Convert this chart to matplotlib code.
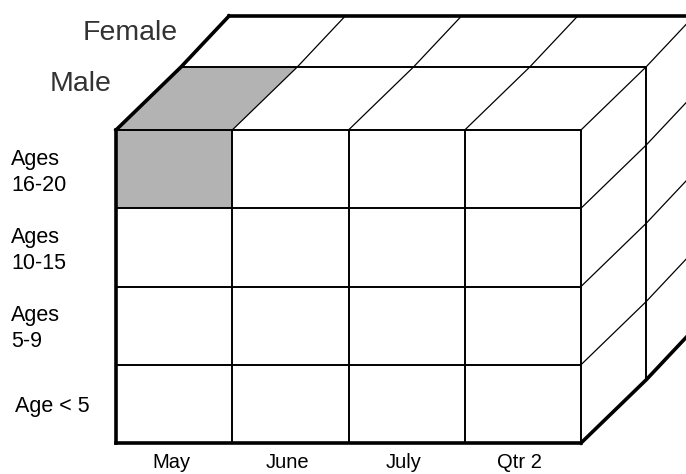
import matplotlib
matplotlib.use('Agg')
import matplotlib.pyplot as plt
from matplotlib.patches import Polygon

# cube dimensions
months = ['May', 'June', 'July', 'Qtr 2']
ages = ['Ages\n16-20', 'Ages\n10-15', 'Ages\n5-9', 'Age < 5']
genders = ['Male', 'Female']
selected = ('May', 'Ages\n16-20', 'Male')   # the shaded cell

# drawing geometry (pixels)
x0, y0 = 116, 130
cw, rh = 116.25, 78.25
depth = [(0, 0), (65, -63), (113, -114)]   # front, middle, back
thick = 2.6
thin = 1.4
diag = 0.9
shade = '#b3b3b3'

plt.rcParams['font.family'] = ['Liberation Sans', 'DejaVu Sans']

fig = plt.figure(figsize=(6.86, 4.74), dpi=100)
ax = fig.add_axes([0, 0, 1, 1])
ax.set_xlim(0, 686)
ax.set_ylim(474, 0)
ax.axis('off')

ncol = len(months)
nrow = len(ages)
W = ncol * cw
H = nrow * rh

# shaded cell: front face + top face piece
ci = months.index(selected[0])
ri = ages.index(selected[1])
ax.add_patch(Polygon([(x0 + ci*cw, y0 + ri*rh), (x0 + (ci+1)*cw, y0 + ri*rh),
                      (x0 + (ci+1)*cw, y0 + (ri+1)*rh), (x0 + ci*cw, y0 + (ri+1)*rh)],
                     closed=True, fc=shade, ec='none', zorder=1))
dx, dy = depth[1]
ax.add_patch(Polygon([(x0 + ci*cw, y0), (x0 + (ci+1)*cw, y0),
                      (x0 + (ci+1)*cw + dx, y0 + dy), (x0 + ci*cw + dx, y0 + dy)],
                     closed=True, fc=shade, ec='none', zorder=1))

# front face
for i in range(ncol + 1):
    x = x0 + i*cw
    ax.plot([x, x], [y0, y0 + H], color='black', lw=thick if i == 0 else thin,
            solid_capstyle='projecting', zorder=3)
for j in range(nrow + 1):
    y = y0 + j*rh
    ax.plot([x0, x0 + W], [y, y], color='black', lw=thick if j == nrow else thin,
            solid_capstyle='projecting', zorder=3)

# top face
for k, (dx, dy) in enumerate(depth[1:], start=1):
    ax.plot([x0 + dx, x0 + W + dx], [y0 + dy, y0 + dy], color='black',
            lw=thick if k == len(depth) - 1 else thin, zorder=3)
for i in range(ncol + 1):
    xs = [x0 + i*cw + dx for dx, dy in depth]
    ys = [y0 + dy for dx, dy in depth]
    ax.plot(xs, ys, color='black', lw=thick if i == 0 else diag, zorder=3)

# right face
for k, (dx, dy) in enumerate(depth[1:], start=1):
    x = x0 + W + dx
    ax.plot([x, x], [y0 + dy, y0 + H + dy], color='black', lw=thin, zorder=3)
for j in range(1, nrow + 1):
    xs = [x0 + W + dx for dx, dy in depth]
    ys = [y0 + j*rh + dy for dx, dy in depth]
    ax.plot(xs, ys, color='black', lw=thick if j == nrow else diag, zorder=3)

# labels
for j, lab in enumerate(ages):
    xl = 15 if '\n' not in lab else 11
    ax.text(xl, y0 + (j + 0.5)*rh + 3, lab, fontsize=15.5, ha='left', va='center',
            linespacing=1.3, color='black')
for i, lab in enumerate(months):
    ax.text(x0 + (i + 0.5)*cw - 3, 462, lab, fontsize=14.5, ha='center',
            va='center', color='black')
for k, lab in enumerate(genders, start=1):
    dx, dy = depth[k]
    ax.text(x0 + dx - 70 + (k - 1)*19, y0 + dy + 17, lab, fontsize=20.5,
            ha='right', va='center', color='#333333')

fig.savefig('out.png', dpi=100)
